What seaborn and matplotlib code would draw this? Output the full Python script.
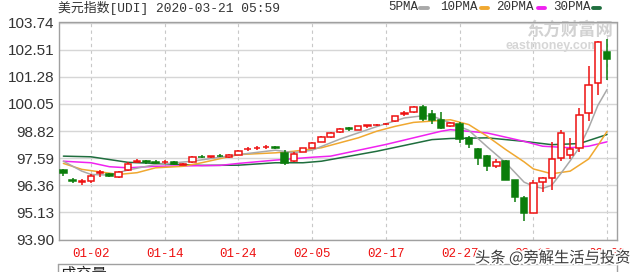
import numpy as np
import pandas as pd
import matplotlib
matplotlib.use("Agg")
import matplotlib.pyplot as plt
import matplotlib.patheffects as pe
from matplotlib.lines import Line2D
import seaborn as sns

# ---------------- data ----------------
opens = [97.03, 96.60, 96.52, 96.54, 96.90, 96.86, 96.74, 97.04, 97.43, 97.44,
         97.42, 97.40, 97.42, 97.30, 97.42, 97.66, 97.65, 97.70, 97.62, 97.75,
         97.99, 98.04, 98.09, 98.09, 97.83, 97.45, 97.87, 98.06, 98.33, 98.54,
         98.78, 98.94, 98.88, 99.04, 99.09, 99.13, 99.26, 99.60, 99.68, 99.90,
         99.58, 99.31, 99.04, 99.16, 98.51, 98.02, 97.68, 97.22, 97.45, 96.59,
         95.80, 95.12, 96.52, 96.70, 97.60, 97.75, 98.06, 99.64, 100.99, 102.38]
highs = [97.08, 96.70, 96.66, 96.86, 97.04, 96.92, 97.02, 97.40, 97.55, 97.52,
         97.50, 97.52, 97.45, 97.38, 97.70, 97.72, 97.70, 97.78, 97.78, 97.95,
         98.10, 98.13, 98.18, 98.12, 97.96, 97.85, 98.05, 98.33, 98.60, 98.78,
         98.95, 99.00, 99.05, 99.08, 99.13, 99.17, 99.52, 99.72, 99.95, 99.99,
         99.76, 99.70, 99.25, 99.21, 98.58, 98.05, 97.75, 97.55, 97.50, 96.62,
         95.85, 96.62, 96.72, 98.32, 98.88, 98.51, 99.86, 101.77, 102.90, 102.98]
lows = [96.76, 96.45, 96.38, 96.48, 96.75, 96.72, 96.70, 97.00, 97.35, 97.32,
        97.33, 97.33, 97.28, 97.26, 97.38, 97.58, 97.58, 97.62, 97.58, 97.72,
        97.92, 97.98, 98.00, 98.00, 97.30, 97.40, 97.85, 98.03, 98.30, 98.50,
        98.74, 98.84, 98.85, 98.97, 99.03, 99.07, 99.22, 99.52, 99.64, 99.28,
        99.12, 98.90, 99.00, 98.28, 98.07, 97.26, 97.00, 97.15, 96.58, 95.60,
        94.74, 95.08, 96.04, 96.16, 97.45, 97.53, 97.85, 99.26, 100.46, 101.14]
closes = [96.92, 96.57, 96.55, 96.80, 96.95, 96.80, 96.97, 97.33, 97.47, 97.40,
          97.38, 97.43, 97.32, 97.34, 97.65, 97.62, 97.68, 97.67, 97.75, 97.90,
          98.02, 98.07, 98.11, 98.04, 97.38, 97.78, 98.03, 98.28, 98.55, 98.73,
          98.92, 98.90, 99.03, 99.07, 99.11, 99.15, 99.48, 99.63, 99.91, 99.36,
          99.30, 98.96, 99.19, 98.46, 98.21, 97.60, 97.22, 97.40, 96.62, 95.84,
          95.12, 96.47, 96.67, 97.56, 98.73, 98.01, 99.56, 100.92, 102.87, 102.08]

# moving-average lines at candle indices
ma5_idx = [0, 2, 3, 5, 7, 10, 14, 19, 23, 25, 27, 30, 34, 37, 39, 40, 42, 44, 46,
           48, 50, 51, 52, 53, 54, 55, 56, 57, 58, 59]
ma5 = [97.45, 97.00, 96.85, 96.82, 97.05, 97.30, 97.45, 97.75, 97.95, 97.84, 97.95,
       98.45, 99.02, 99.41, 99.51, 99.50, 99.19, 98.85, 98.10, 97.38, 96.50, 96.32,
       96.22, 96.36, 96.90, 97.47, 98.08, 98.95, 99.98, 100.70]
ma10_idx = [0, 2, 6, 8, 10, 13, 15, 19, 23, 25, 28, 32, 34, 36, 38, 42, 44, 46,
            48, 50, 51, 53, 55, 57, 58, 59]
ma10 = [97.35, 97.08, 96.85, 96.93, 97.15, 97.22, 97.38, 97.75, 97.83, 97.90, 98.06,
        98.51, 98.81, 99.03, 99.21, 99.33, 99.11, 98.58, 97.98, 97.42, 97.10, 96.88,
        97.00, 97.55, 98.16, 98.80]
ma20_idx = [0, 3, 5, 7, 10, 17, 19, 23, 27, 29, 35, 41, 42, 46, 50, 52, 55, 57, 59]
ma20 = [97.45, 97.38, 97.20, 97.15, 97.22, 97.26, 97.35, 97.50, 97.63, 97.68, 98.21,
        98.81, 98.88, 98.73, 98.35, 98.13, 98.06, 98.13, 98.33]
ma30_idx = [0, 3, 7, 10, 15, 19, 23, 26, 28, 34, 40, 42, 46, 50, 53, 56, 59]
ma30 = [97.68, 97.65, 97.40, 97.35, 97.26, 97.27, 97.38, 97.38, 97.45, 97.90, 98.43,
        98.48, 98.51, 98.35, 98.20, 98.25, 98.66]

tick_pos = [3, 11, 19, 27, 35, 43, 51, 59]
tick_labels = ["01-02", "01-14", "01-24", "02-05", "02-17", "02-27", "03-10", "03-20"]
y_ticks = [93.90, 95.13, 96.36, 97.59, 98.82, 100.05, 101.28, 102.51, 103.74]

legend_names = ["5PMA", "10PMA", "20PMA", "30PMA"]
title_text = "美元指数[UDI] 2020-03-21 05:59"

# ---------------- style ----------------
sns.set_theme(style="white")
plt.rcParams['font.family'] = ['Liberation Sans', 'Noto Sans CJK SC']

RED = "#ee1111"
GREEN = "#0b7d0b"
C5, C10, C20, C30 = "#a9a9a9", "#f0a830", "#f022f0", "#1f6e3e"

W, H = 640, 272
fig = plt.figure(figsize=(6.4, 2.72), dpi=100)
fig.patch.set_facecolor("white")
ax = fig.add_axes([58.5 / W, 1 - 239.5 / H, (617 - 58.5) / W, (239.5 - 22.5) / H])
ax.set_facecolor("white")

df = pd.DataFrame({"idx": np.arange(len(opens)), "open": opens, "high": highs,
                   "low": lows, "close": closes})
df["up"] = df["close"] >= df["open"]

# moving averages
for xs, ys, col in [(ma30_idx, ma30, C30), (ma20_idx, ma20, C20),
                    (ma10_idx, ma10, C10), (ma5_idx, ma5, C5)]:
    sns.lineplot(x=xs, y=ys, ax=ax, color=col, lw=1.1, zorder=2)

# candles
wick_cols = [RED if u else GREEN for u in df["up"]]
ax.vlines(df["idx"], df["low"], df["high"], colors=wick_cols, lw=1.1, zorder=3)
upd = df[df["up"]]
dnd = df[~df["up"]]
ax.bar(upd["idx"], np.maximum(upd["close"] - upd["open"], 0.012), bottom=upd["open"],
       width=0.7, facecolor="white", edgecolor=RED, lw=1.1, zorder=4)
ax.bar(dnd["idx"], np.maximum(dnd["open"] - dnd["close"], 0.012), bottom=dnd["close"],
       width=0.7, facecolor=GREEN, edgecolor=GREEN, lw=1.1, zorder=4)

# axes
ax.set_xlim(-0.53, 60.08)
ax.set_ylim(93.90, 103.74)
ax.set_yticks(y_ticks)
ax.set_yticklabels([f"{v:.2f}" for v in y_ticks], fontsize=11, color="#333333")
ax.set_xticks(tick_pos)
ax.set_xticklabels(tick_labels, fontsize=9, color=RED, family="Liberation Mono")
ax.tick_params(axis="both", length=0)
ax.tick_params(axis="y", pad=3)
ax.tick_params(axis="x", pad=6)
ax.yaxis.grid(True, color="#d6d6d6", lw=1)
ax.xaxis.grid(True, color="#c8c8c8", lw=0.8, ls=(0, (3, 3)))
ax.set_axisbelow(True)
ax.set_xlabel("")
ax.set_ylabel("")
for s in ax.spines.values():
    s.set_color("#a0a0a0")
    s.set_linewidth(1)
    s.set_visible(True)

# watermark behind candles
ax.text(527 / W, 1 - 30 / H, "东方财富网", transform=fig.transFigure, fontsize=12.5,
        fontweight="bold", color="#d2d2d2", va="center", ha="left",
        family="Noto Sans CJK SC", zorder=1)
ax.text(506 / W, 1 - 46 / H, "eastmoney.com", transform=fig.transFigure, fontsize=9,
        fontweight="bold", color="#d6d6d6", va="center", ha="left", zorder=1)

# title
fig.text(58 / W, 1 - 8 / H, title_text, fontsize=9.3, color="#333333",
         family=["Liberation Mono", "Noto Sans CJK SC"], va="center", ha="left")

# legend
leg_x = [388, 440, 496, 553]
dash_x = [(420, 428), (481, 488), (538, 545), (593, 600)]
for name, lx, (d0, d1), col in zip(legend_names, leg_x, dash_x, [C5, C10, C20, C30]):
    fig.text(lx / W, 1 - 7.5 / H, name, fontsize=9, color="#333333",
             family="Liberation Mono", va="center", ha="left")
    fig.add_artist(Line2D([d0 / W, d1 / W], [1 - 7.5 / H, 1 - 7.5 / H],
                          transform=fig.transFigure, color=col, lw=2.8))

# lower panel edge (volume panel, cut off)
fig.add_artist(Line2D([58 / W, 617 / W], [1 - 263.5 / H, 1 - 263.5 / H],
                      transform=fig.transFigure, color="#a0a0a0", lw=1))
for xx in (58, 617):
    fig.add_artist(Line2D([xx / W, xx / W], [0, 1 - 263.5 / H],
                          transform=fig.transFigure, color="#a0a0a0", lw=1))
fig.text(61 / W, 1 - 266 / H, "成交量 .", fontsize=11, color="#222222",
         family="Noto Sans CJK SC", va="top", ha="left")

# bottom-right watermark
fig.text(475 / W, 1 - 258 / H, "头条 @旁解生活与投资", fontsize=11, color="#3a3a3a",
         family="Noto Sans CJK SC", va="center", ha="left",
         path_effects=[pe.withStroke(linewidth=2.5, foreground="white")])

fig.savefig("out.png", dpi=100)
